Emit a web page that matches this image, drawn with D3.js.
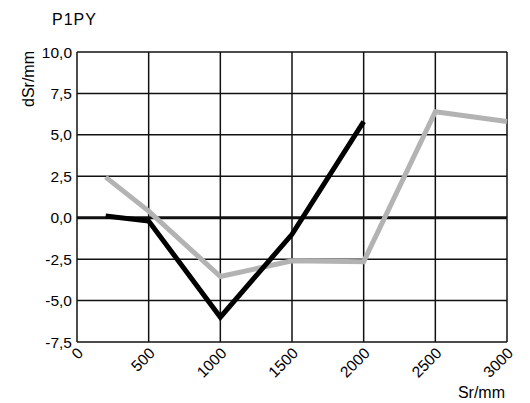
<!DOCTYPE html>
<html>
<head>
  <meta charset="UTF-8">
  <script src="https://d3js.org/d3.v7.min.js"></script>
  <style>
    body { margin:0; background:#fff; }
    text { font-family: "Liberation Sans", Arial, sans-serif; fill:#000; }
  </style>
</head>
<body>
  <svg width="530" height="403"></svg>
  <script>
    // values
    var xTicks = [0, 500, 1000, 1500, 2000, 2500, 3000];
    var yTicks = [-7.5, -5, -2.5, 0, 2.5, 5, 7.5, 10];

    var blackX = [200, 500, 1000, 1500, 2000];
    var blackY = [0.1, -0.2, -6.0, -1.0, 5.8];

    var grayX = [200, 500, 1000, 1500, 2000, 2500, 3000];
    var grayY = [2.45, 0.4, -3.55, -2.6, -2.65, 6.4, 5.8];

    var margin = {top: 52, right: 23, bottom: 61, left: 77},
        width = 530 - margin.left - margin.right,
        height = 403 - margin.top - margin.bottom;

    var svg = d3.select("svg");
    var g = svg.append("g")
        .attr("transform", "translate(" + margin.left + "," + margin.top + ")");

    var x = d3.scaleLinear().domain([0, 3000]).range([0, width]);
    var y = d3.scaleLinear().domain([-7.5, 10]).range([height, 0]);

    var fmt = function(d) { return d3.format(".1f")(d).replace(".", ",").replace("−", "-"); };

    // grid
    g.selectAll(".vgrid").data(xTicks).enter().append("line")
        .attr("x1", function(d) { return x(d); }).attr("x2", function(d) { return x(d); })
        .attr("y1", 0).attr("y2", height)
        .attr("stroke", "#111").attr("stroke-width", 1.5);
    g.selectAll(".hgrid").data(yTicks).enter().append("line")
        .attr("y1", function(d) { return y(d); }).attr("y2", function(d) { return y(d); })
        .attr("x1", 0).attr("x2", width)
        .attr("stroke", "#111")
        .attr("stroke-width", function(d) { return d === 0 ? 3 : 1.5; });

    // y labels
    g.selectAll(".ylab").data(yTicks).enter().append("text")
        .attr("x", -5).attr("y", function(d) { return y(d) + 5.5; })
        .attr("text-anchor", "end").style("font-size", "15.5px")
        .text(fmt);

    // x labels, rotated
    g.selectAll(".xlab").data(xTicks).enter().append("text")
        .attr("transform", function(d) { return "translate(" + (x(d) - 1) + "," + (height + 4) + ") rotate(-45)"; })
        .attr("text-anchor", "end").attr("dy", "0.75em")
        .style("font-size", "15.5px")
        .text(function(d) { return d; });

    var line = d3.line()
        .x(function(d) { return x(d[0]); })
        .y(function(d) { return y(d[1]); });

    g.append("path")
        .datum(d3.zip(grayX, grayY))
        .attr("d", line)
        .attr("fill", "none").attr("stroke", "#b3b3b3").attr("stroke-width", 5);

    g.append("path")
        .datum(d3.zip(blackX, blackY))
        .attr("d", line)
        .attr("fill", "none").attr("stroke", "#000").attr("stroke-width", 5);

    // titles
    svg.append("text").attr("x", 52).attr("y", 25)
        .style("font-size", "16px").style("letter-spacing", "1px").text("P1PY");
    svg.append("text")
        .attr("transform", "translate(34,79) rotate(-90)")
        .attr("text-anchor", "middle").style("font-size", "16px")
        .text("dSr/mm");
    svg.append("text").attr("x", 505).attr("y", 398)
        .attr("text-anchor", "end").style("font-size", "16px")
        .text("Sr/mm");
  </script>
</body>
</html>
